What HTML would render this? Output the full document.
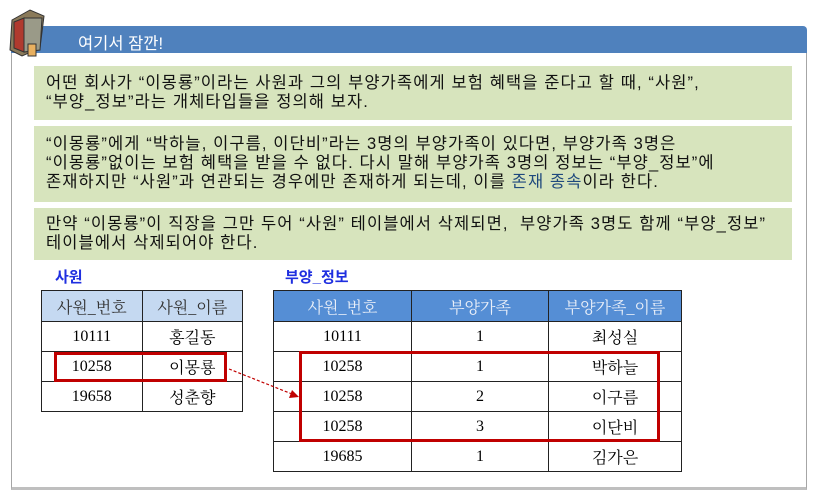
<!DOCTYPE html>
<html><head><meta charset="utf-8"><style>
body{margin:0;width:822px;height:496px;background:#fff;position:relative;overflow:hidden;font-family:"Liberation Sans","Noto Sans CJK KR",sans-serif}
.abs{position:absolute}
.bar{left:11px;top:26px;width:796px;height:27px;background:#4f81bd;border-radius:4px 4px 0 0;color:#fff;font-size:16.5px}
.panel{left:11px;top:53px;width:794px;height:434px;border:1px solid #a6a6a6;border-top:none;border-bottom:3px solid #bfbfbf}
.g{left:34px;width:758px;background:#d7e4bd;font-size:16.5px;letter-spacing:1.1px;color:#111;line-height:19px;padding:0 0 0 12px;box-sizing:border-box;white-space:nowrap}
table{border-collapse:collapse;position:absolute;font-family:"Liberation Serif","Noto Serif CJK SC","Noto Sans CJK KR",serif;font-size:16px}
td{border:1.5px solid #222;text-align:center;padding:0;height:29px}
.lbl{color:#1f2fe0;font-weight:bold;font-size:15px}
.red{border:3px solid #c00000;box-sizing:border-box}
</style></head><body>
<div class="abs bar"><span style="position:absolute;left:67px;top:4px">여기서 잠깐!</span></div>
<svg class="abs" style="left:6px;top:6px;z-index:5" width="42" height="52">
<path d="M6 14 L24 4 L38 10 L34 42 L16 50 L4 44Z" fill="#8a7a5a" stroke="#333"/>
<path d="M8 16 L18 12 L18 46 L8 42Z" fill="#b03a2e" stroke="#333"/>
<path d="M18 12 L36 12 L34 44 L18 46Z" fill="#9a9a88" stroke="#333"/>
<path d="M22 38 L30 38 L30 50 L22 50Z" fill="#e8b060" stroke="#333"/>
</svg>
<div class="abs panel"></div>
<div class="abs g" style="top:66px;height:54px;padding-top:8px">어떤 회사가 “이몽룡”이라는 사원과 그의 부양가족에게 보험 혜택을 준다고 할 때, “사원”,<br>“부양_정보”라는 개체타입들을 정의해 보자.</div>
<div class="abs g" style="top:126px;height:76px;padding-top:9px">“이몽룡”에게 “박하늘, 이구름, 이단비”라는 3명의 부양가족이 있다면, 부양가족 3명은<br>“이몽룡”없이는 보험 혜택을 받을 수 없다. 다시 말해 부양가족 3명의 정보는 “부양_정보”에<br>존재하지만 “사원”과 연관되는 경우에만 존재하게 되는데, 이를 <span style="color:#1f497d">존재 종속</span>이라 한다.</div>
<div class="abs g" style="top:208px;height:52px;padding-top:7px">만약 “이몽룡”이 직장을 그만 두어 “사원” 테이블에서 삭제되면,&nbsp; 부양가족 3명도 함께 “부양_정보”<br>테이블에서 삭제되어야 한다.</div>
<div class="abs lbl" style="left:55px;top:266px">사원</div>
<div class="abs lbl" style="left:285px;top:266px">부양_정보</div>
<table style="left:41px;top:290px;width:202px">
<tr style="background:#c5d9f1;color:#333"><td style="height:30px">사원_번호</td><td>사원_이름</td></tr>
<tr><td>10111</td><td>홍길동</td></tr>
<tr><td>10258</td><td>이몽룡</td></tr>
<tr><td>19658</td><td>성춘향</td></tr>
</table>
<table style="left:273px;top:290px;width:409px">
<tr style="background:#558ed5;color:#e8eef8"><td style="height:30px;width:137px">사원_번호</td><td style="width:136px">부양가족</td><td>부양가족_이름</td></tr>
<tr><td>10111</td><td>1</td><td>최성실</td></tr>
<tr><td>10258</td><td>1</td><td>박하늘</td></tr>
<tr><td>10258</td><td>2</td><td>이구름</td></tr>
<tr><td>10258</td><td>3</td><td>이단비</td></tr>
<tr><td>19685</td><td>1</td><td>김가은</td></tr>
</table>
<div class="abs red" style="left:54px;top:352px;width:173px;height:30px"></div>
<div class="abs red" style="left:299px;top:351px;width:361px;height:91px"></div>
<svg class="abs" style="left:0;top:0" width="822" height="496">
<line x1="229" y1="369" x2="292" y2="394" stroke="#c00000" stroke-width="1.2" stroke-dasharray="3,2"/>
<path d="M299 397 L289 398 L292 390Z" fill="#c00000"/>
</svg>
</body></html>
